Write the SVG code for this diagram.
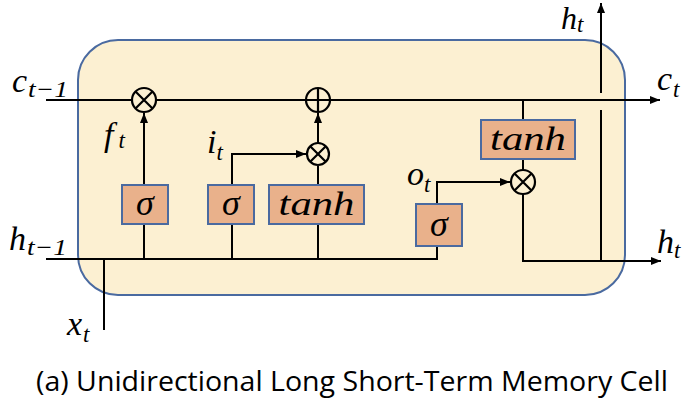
<svg xmlns="http://www.w3.org/2000/svg" width="688" height="403" viewBox="0 0 688 403">
<defs>
<marker id="ah" markerWidth="10" markerHeight="8" refX="10" refY="4" orient="auto" markerUnits="userSpaceOnUse">
<path d="M0,0 L10,4 L0,8 Z" fill="#000"/>
</marker>
</defs>
<style>
.ln{fill:none;stroke:#000;stroke-width:2}
.box{fill:#E9B18B;stroke:#4A6AA0;stroke-width:2}
.op{fill:none;stroke:#000;stroke-width:2.2}
.m{font-family:"Liberation Serif","DejaVu Serif",serif;font-style:italic;fill:#000}
.big{font-size:34px}
.sub{font-size:23px}
.g{font-family:"Liberation Serif","DejaVu Serif",serif;font-style:italic;font-size:36px;text-anchor:middle;fill:#000}
.cap{font-family:"Open Sans","Liberation Sans",sans-serif;font-size:27px;fill:#000}
</style>
<rect id="cell" x="78" y="40" width="547" height="255" rx="40" ry="40" fill="#FCF0D2" stroke="#4A6AA0" stroke-width="2"/>
<g id="connectors">
<path class="ln" d="M46,100 H132 M156,100 H306 M330,100 H660" marker-end="url(#ah)"/>
<path class="ln" d="M46,259 H437 V246"/>
<path class="ln" d="M104,259 V330"/>
<path class="ln" d="M144,224 V259 M232,224 V259 M318,224 V259"/>
<path class="ln" d="M144,185 V113" marker-end="url(#ah)"/>
<path class="ln" d="M318,143 V113" marker-end="url(#ah)"/>
<path class="ln" d="M232,185 V154 H306" marker-end="url(#ah)"/>
<path class="ln" d="M318,185 V166"/>
<path class="ln" d="M437,204 V182 H510" marker-end="url(#ah)"/>
<path class="ln" d="M523,100 V120 M523,159 V170"/>
<path class="ln" d="M523,194 V261 H661" marker-end="url(#ah)"/>
<path class="ln" d="M601,261 V110"/>
<path class="ln" d="M601,93 V3" marker-end="url(#ah)"/>
</g>
<g id="mul-f"><circle class="op" cx="144" cy="100" r="12"/><path class="op" d="M135.5,91.5 L152.5,108.5 M152.5,91.5 L135.5,108.5"/></g>
<g id="add-c"><circle class="op" cx="318" cy="100" r="12"/><path class="op" d="M306,100 H330 M318,88 V112"/></g>
<g id="mul-i"><circle class="op" cx="318" cy="154" r="11"/><path class="op" d="M310.2,146.2 L325.8,161.8 M325.8,146.2 L310.2,161.8"/></g>
<g id="mul-o"><circle class="op" cx="523" cy="182" r="12"/><path class="op" d="M514.5,173.5 L531.5,190.5 M531.5,173.5 L514.5,190.5"/></g>
<g id="sigma-f"><rect class="box" x="122" y="185" width="46" height="39"/><text class="g" x="145" y="215">σ</text></g>
<g id="sigma-i"><rect class="box" x="208" y="185" width="46" height="39"/><text class="g" x="231" y="215">σ</text></g>
<g id="tanh-g"><rect class="box" x="269" y="185" width="95" height="39"/><text class="g" x="316.5" y="215" textLength="76" lengthAdjust="spacingAndGlyphs" style="font-size:33px">tanh</text></g>
<g id="sigma-o"><rect class="box" x="416" y="204" width="46" height="42"/><text class="g" x="439" y="236">σ</text></g>
<g id="tanh-c"><rect class="box" x="481" y="120" width="94" height="39"/><text class="g" x="528" y="150" textLength="76" lengthAdjust="spacingAndGlyphs" style="font-size:33px">tanh</text></g>
<g id="labels">
<text class="m" x="12" y="92"><tspan class="big">c</tspan><tspan class="sub" dx="1" dy="5" textLength="40" lengthAdjust="spacingAndGlyphs">t−1</tspan></text>
<text class="m" x="9" y="250"><tspan class="big">h</tspan><tspan class="sub" dx="1" dy="5" textLength="40" lengthAdjust="spacingAndGlyphs">t−1</tspan></text>
<text class="m" x="104" y="146"><tspan class="big">f</tspan><tspan class="sub" dx="5" dy="2">t</tspan></text>
<text class="m" x="207" y="153"><tspan class="big">i</tspan><tspan class="sub" dx="0" dy="7">t</tspan></text>
<text class="m" x="407" y="185"><tspan class="big">o</tspan><tspan class="sub" dx="0" dy="7">t</tspan></text>
<text class="m" x="67" y="335"><tspan class="big">x</tspan><tspan class="sub" dx="1" dy="7">t</tspan></text>
<text class="m" x="561" y="29"><tspan style="font-size:32px">h</tspan><tspan class="sub" dx="0" dy="3">t</tspan></text>
<text class="m" x="657" y="90"><tspan class="big">c</tspan><tspan class="sub" dx="1" dy="7">t</tspan></text>
<text class="m" x="657" y="253"><tspan class="big">h</tspan><tspan class="sub" dx="0" dy="5">t</tspan></text>
</g>
<text id="caption" class="cap" x="36" y="391" textLength="632" lengthAdjust="spacingAndGlyphs">(a) Unidirectional Long Short-Term Memory Cell</text>
</svg>
